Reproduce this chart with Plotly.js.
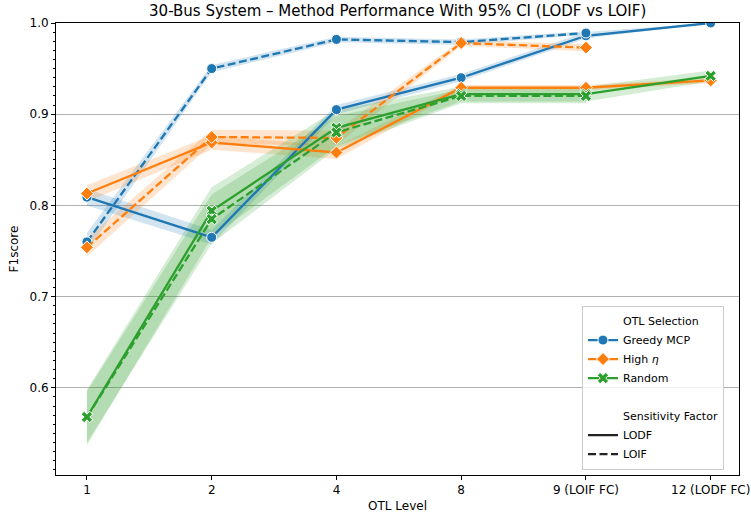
<!DOCTYPE html>
<html>
<head>
<meta charset="utf-8">
<script src="https://cdn.plot.ly/plotly-3.0.1.min.js"></script>
<style>html,body{margin:0;padding:0;background:#fff;}#chart{width:751px;height:518px;}</style>
</head>
<body>
<div id="chart"></div>
<script>
// ---- data ----
const levels = ["1", "2", "4", "8", "9 (LOIF FC)", "12 (LODF FC)"];
const levelsLOIF = ["1", "2", "4", "8", "9 (LOIF FC)"];

const greedyLODF    = [0.809, 0.765, 0.905, 0.940, 0.986, 1.000];
const greedyLODF_lo = [0.800, 0.757, 0.900, 0.936, 0.983, 1.000];
const greedyLODF_hi = [0.818, 0.773, 0.910, 0.944, 0.990, 1.000];

const greedyLOIF    = [0.760, 0.950, 0.982, 0.979, 0.989];
const greedyLOIF_lo = [0.750, 0.946, 0.979, 0.976, 0.987];
const greedyLOIF_hi = [0.770, 0.954, 0.985, 0.982, 0.991];

const highLODF    = [0.813, 0.869, 0.858, 0.929, 0.929, 0.937];
const highLODF_lo = [0.804, 0.861, 0.851, 0.926, 0.926, 0.934];
const highLODF_hi = [0.822, 0.877, 0.865, 0.932, 0.932, 0.940];

const highLOIF    = [0.754, 0.875, 0.874, 0.978, 0.973];
const highLOIF_lo = [0.744, 0.867, 0.866, 0.975, 0.969];
const highLOIF_hi = [0.764, 0.883, 0.882, 0.981, 0.977];

const randLODF    = [0.568, 0.794, 0.885, 0.922, 0.922, 0.942];
const randLODF_lo = [0.537, 0.765, 0.865, 0.914, 0.914, 0.936];
const randLODF_hi = [0.598, 0.820, 0.905, 0.930, 0.930, 0.948];

const randLOIF    = [0.568, 0.785, 0.880, 0.920, 0.920];
const randLOIF_lo = [0.540, 0.758, 0.862, 0.912, 0.912];
const randLOIF_hi = [0.596, 0.812, 0.898, 0.927, 0.927];

const yTicks = [0.6, 0.7, 0.8, 0.9, 1.0];
const yTickText = ["0.6", "0.7", "0.8", "0.9", "1.0"];

// ---- styles ----
const BLUE = "#1f77b4", ORANGE = "#ff7f0e", GREEN = "#2ca02c";
const BAND = {
  [BLUE]: "rgba(31,119,180,0.2)",
  [ORANGE]: "rgba(255,127,14,0.2)",
  [GREEN]: "rgba(44,160,44,0.2)"
};
const DASH = "8px,3.5px";
const LW = 2.3;
const MS = 10;
const FONT = "DejaVu Sans, sans-serif";

function band(x, lo, hi, color) {
  return {
    x: x.concat(x.slice().reverse()),
    y: hi.concat(lo.slice().reverse()),
    type: "scatter", mode: "lines", fill: "toself",
    fillcolor: BAND[color], line: {width: 0, color: BAND[color]},
    hoverinfo: "skip", showlegend: false
  };
}
function line(x, y, color, symbol, dash) {
  return {
    x: x, y: y, type: "scatter", mode: "lines+markers",
    line: {color: color, width: LW, dash: dash},
    marker: {symbol: symbol, size: MS, color: color, line: {color: "white", width: 1}},
    showlegend: false
  };
}
function legendItem(name, opts) {
  const t = {x: [null], y: [null], type: "scatter", name: name, showlegend: true};
  return Object.assign(t, opts);
}

const traces = [
  band(levels, greedyLODF_lo, greedyLODF_hi, BLUE),
  band(levelsLOIF, greedyLOIF_lo, greedyLOIF_hi, BLUE),
  band(levels, highLODF_lo, highLODF_hi, ORANGE),
  band(levelsLOIF, highLOIF_lo, highLOIF_hi, ORANGE),
  band(levels, randLODF_lo, randLODF_hi, GREEN),
  band(levelsLOIF, randLOIF_lo, randLOIF_hi, GREEN),
  line(levels, greedyLODF, BLUE, "circle", "solid"),
  line(levelsLOIF, greedyLOIF, BLUE, "circle", DASH),
  line(levels, highLODF, ORANGE, "diamond", "solid"),
  line(levelsLOIF, highLOIF, ORANGE, "diamond", DASH),
  line(levels, randLODF, GREEN, "x", "solid"),
  line(levelsLOIF, randLOIF, GREEN, "x", DASH),
  // legend entries
  legendItem("OTL Selection", {mode: "lines", line: {width: 0, color: "rgba(0,0,0,0)"}}),
  legendItem("Greedy MCP", {mode: "lines+markers", line: {color: BLUE, width: LW}, marker: {symbol: "circle", size: MS, color: BLUE, line: {color: "white", width: 1}}}),
  legendItem("High <i>η</i>", {mode: "lines+markers", line: {color: ORANGE, width: LW}, marker: {symbol: "diamond", size: MS, color: ORANGE, line: {color: "white", width: 1}}}),
  legendItem("Random", {mode: "lines+markers", line: {color: GREEN, width: LW}, marker: {symbol: "x", size: MS, color: GREEN, line: {color: "white", width: 1}}}),
  legendItem(" ", {mode: "lines", line: {width: 0, color: "rgba(0,0,0,0)"}}),
  legendItem("Sensitivity Factor", {mode: "lines", line: {width: 0, color: "rgba(0,0,0,0)"}}),
  legendItem("LODF", {mode: "lines", line: {color: "#222", width: LW}}),
  legendItem("LOIF", {mode: "lines", line: {color: "#222", width: LW, dash: DASH}})
];

const layout = {
  width: 751, height: 518,
  margin: {l: 56, r: 12, t: 23, b: 43, pad: 0},
  paper_bgcolor: "white", plot_bgcolor: "white",
  font: {family: FONT, size: 11.5, color: "#000"},
  title: {
    text: "30-Bus System – Method Performance With 95% CI (LODF vs LOIF)",
    font: {family: FONT, size: 15, color: "#000"},
    x: 0.5295, xanchor: "center", y: 0.979, yanchor: "middle", yref: "container"
  },
  xaxis: {
    type: "category", categoryorder: "array", categoryarray: levels,
    range: [-0.248, 5.227],
    showgrid: false, zeroline: false,
    showline: true, linecolor: "#000", linewidth: 1, mirror: true,
    ticks: "outside", ticklen: 4, tickcolor: "#000", tickwidth: 1,
    tickfont: {family: FONT, size: 12, color: "#000"},
    title: {text: "OTL Level", font: {family: FONT, size: 12, color: "#000"}, standoff: 5}
  },
  yaxis: {
    range: [0.5044, 1.0],
    tickvals: yTicks, ticktext: yTickText,
    showgrid: true, gridcolor: "#b0b0b0", gridwidth: 1,
    zeroline: false,
    showline: true, linecolor: "#000", linewidth: 1, mirror: true,
    ticks: "outside", ticklen: 4, tickcolor: "#000", tickwidth: 1,
    tickfont: {family: FONT, size: 12, color: "#000"},
    minor: {dtick: 0.01, tick0: 0, ticks: "outside", ticklen: 2, tickcolor: "#000", tickwidth: 1, showgrid: false},
    title: {text: "F1score", font: {family: FONT, size: 12, color: "#000"}, standoff: 8}
  },
  legend: {
    x: 0.978, xanchor: "right", y: 0.012, yanchor: "bottom",
    bgcolor: "rgba(255,255,255,0.8)", bordercolor: "#cccccc", borderwidth: 1,
    font: {family: FONT, size: 11, color: "#000"},
    traceorder: "normal", tracegroupgap: 0, itemwidth: 30
  },
  showlegend: true
};

Plotly.newPlot("chart", traces, layout, {displayModeBar: false, staticPlot: true});
</script>
</body>
</html>
